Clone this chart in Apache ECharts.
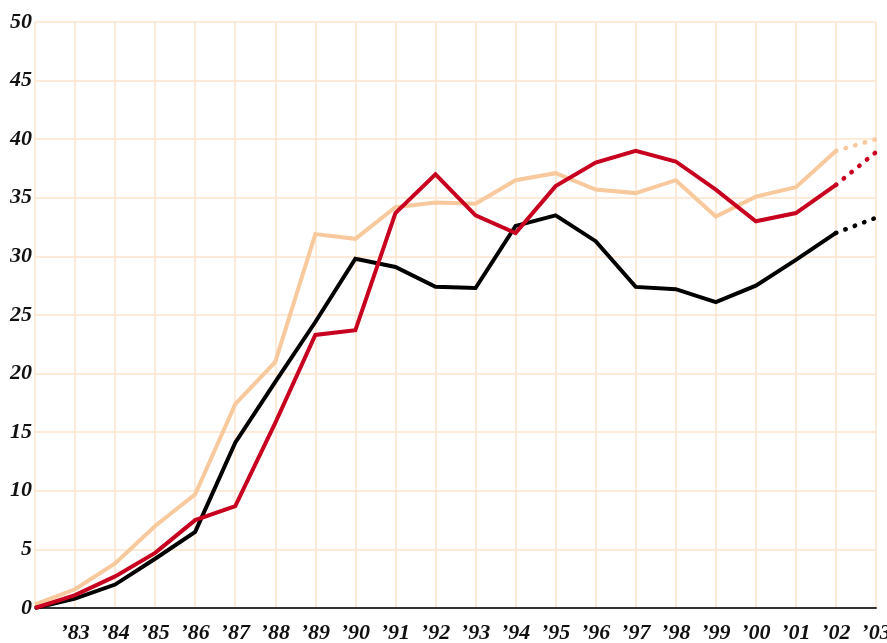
<!DOCTYPE html>
<html>
<head>
<meta charset="utf-8">
<script src="https://cdn.jsdelivr.net/npm/echarts@6/dist/echarts.min.js"></script>
<style>
  html, body { margin: 0; padding: 0; background: #ffffff; }
  #chart { width: 887px; height: 643px; }
</style>
</head>
<body>
<div id="chart"></div>
<script>
// years 1982..2003, first one has no label
var years = ['', '’83', '’84', '’85', '’86', '’87', '’88', '’89', '’90', '’91', '’92',
  '’93', '’94', '’95', '’96', '’97', '’98', '’99', '’00', '’01', '’02', '’03'];

var peachValues = [0.3, 1.6, 3.8, 7.0, 9.7, 17.4, 21.0, 31.9, 31.5, 34.2, 34.6,
  34.5, 36.5, 37.1, 35.7, 35.4, 36.5, 33.4, 35.1, 35.9, 39.0];
var redValues = [0, 1.1, 2.7, 4.7, 7.5, 8.7, 15.8, 23.3, 23.7, 33.7, 37.0,
  33.5, 32.0, 36.0, 38.0, 39.0, 38.1, 35.7, 33.0, 33.7, 36.1];
var blackValues = [0, 0.8, 2.0, 4.2, 6.5, 14.1, 19.3, 24.4, 29.8, 29.1, 27.4,
  27.3, 32.6, 33.5, 31.3, 27.4, 27.2, 26.1, 27.5, 29.7, 32.0];

// 2003 projections (dotted part from '02 to '03)
var peachProjected = 40.0;
var redProjected = 38.9;
var blackProjected = 33.3;

var yTicks = { min: 0, max: 50, interval: 5 };

var labelFont = {
  fontFamily: '"Liberation Serif", serif',
  fontStyle: 'italic',
  fontWeight: 'bold',
  fontSize: 22,
  color: '#111111'
};

function projection(values, last) {
  var arr = values.map(function () { return null; });
  arr[arr.length - 1] = values[values.length - 1];
  arr.push(last);
  return arr;
}

function solidSeries(name, values, color) {
  return {
    name: name,
    type: 'line',
    data: values,
    symbol: 'none',
    lineStyle: { color: color, width: 4, join: 'miter' },
    z: 3
  };
}

function dottedSeries(name, values, last, color) {
  return {
    name: name + ' projected',
    type: 'line',
    data: projection(values, last),
    symbol: 'none',
    connectNulls: false,
    lineStyle: { color: color, width: 4.5, type: [0.5, 9.5], cap: 'round' },
    z: 3
  };
}

var chart = echarts.init(document.getElementById('chart'), null, { renderer: 'canvas' });

var option = {
  animation: false,
  backgroundColor: '#ffffff',
  grid: { left: 35, right: 11, top: 22, bottom: 35, containLabel: false, outerBoundsMode: 'none' },
  xAxis: {
    type: 'category',
    data: years,
    boundaryGap: false,
    axisLine: { show: true, lineStyle: { color: '#333333', width: 2 } },
    axisTick: { show: false },
    axisLabel: Object.assign({ margin: 14, interval: 0 }, labelFont),
    splitLine: { show: true, lineStyle: { color: '#fde3cc', width: 1.5 } }
  },
  yAxis: {
    type: 'value',
    min: yTicks.min,
    max: yTicks.max,
    interval: yTicks.interval,
    axisLine: { show: false },
    axisTick: { show: false },
    axisLabel: Object.assign({ margin: 3 }, labelFont),
    splitLine: { show: true, lineStyle: { color: '#fde3cc', width: 1.5 } }
  },
  series: [
    solidSeries('Peach', peachValues, '#f8c99c'),
    dottedSeries('Peach', peachValues, peachProjected, '#f8c99c'),
    solidSeries('Black', blackValues, '#000000'),
    dottedSeries('Black', blackValues, blackProjected, '#000000'),
    solidSeries('Red', redValues, '#c8001f'),
    dottedSeries('Red', redValues, redProjected, '#c8001f')
  ]
};

chart.setOption(option);
</script>
</body>
</html>
